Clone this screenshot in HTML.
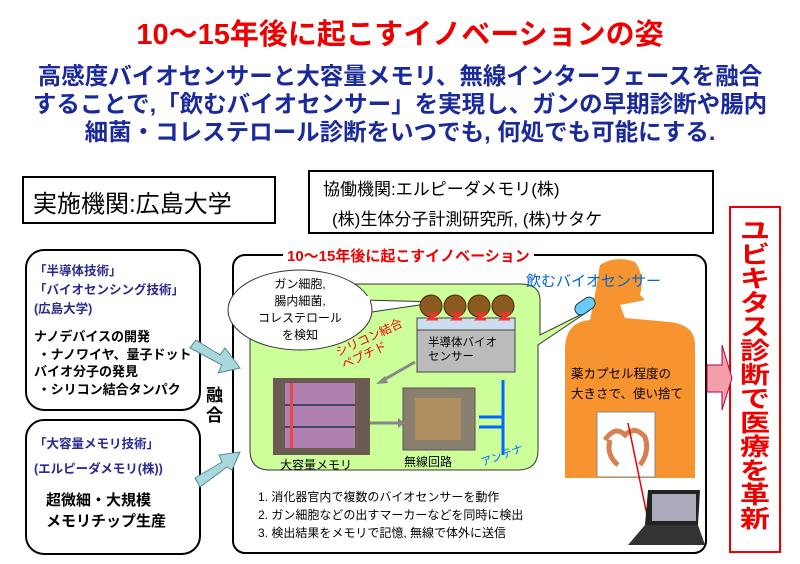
<!DOCTYPE html>
<html><head><meta charset="utf-8"><style>
html,body{margin:0;padding:0;background:#fff;}
body{width:800px;height:564px;position:relative;overflow:hidden;font-family:"Liberation Sans","Noto Sans CJK JP",sans-serif;}
.a{position:absolute;white-space:nowrap;}
</style></head><body>
<svg width="800" height="564" style="position:absolute;left:0;top:0">
<rect x="23" y="177" width="252" height="46" fill="#fff" stroke="#000" stroke-width="2"/>
<rect x="309" y="171" width="404" height="62" fill="#fff" stroke="#000" stroke-width="2"/>
<rect x="26" y="250" width="174" height="160" rx="18" fill="#fff" stroke="#000" stroke-width="2"/>
<rect x="26" y="420" width="174" height="134" rx="18" fill="#fff" stroke="#000" stroke-width="2"/>
<rect x="233" y="255" width="473" height="298" rx="12" fill="#fff" stroke="#000" stroke-width="2"/>
<rect x="730" y="207" width="50" height="345" fill="#fff" stroke="#e00" stroke-width="2"/>
<polygon points="196,340 220,355 225,348 240,368 218,373 222,365 190,348" fill="#a8d8dc" stroke="#5a8a90"/>
<polygon points="195,478 222,462 219,455 240,452 232,470 227,467 200,487" fill="#a8d8dc" stroke="#5a8a90"/>
<polygon points="707,365 722,365 722,345 732,378 722,410 722,392 707,392" fill="#f5a0a8" stroke="#a05"/>
<path d="M260,300 Q260,284 280,284 L520,284 Q540,284 540,300 L540,335 L590,310 L538,345 L538,450 Q538,470 518,470 L270,470 Q250,470 250,450 L250,330 Z" fill="#ccff99" stroke="#333" stroke-width="1"/>
<path d="M360,300 L440,302 L372,312" fill="#fff" stroke="#333"/>
<ellipse cx="300" cy="310" rx="72" ry="40" fill="#fff" stroke="#333"/>
<rect x="362" y="296" width="8" height="14" fill="#fff"/>
<rect x="417" y="318" width="98" height="12" fill="#cde" stroke="#444"/>
<rect x="417" y="330" width="98" height="42" fill="#bbb" stroke="#444"/>
<g fill="#8b5a20" stroke="#4a2a00"><circle cx="431" cy="306" r="11"/><circle cx="455" cy="306" r="11"/><circle cx="479" cy="306" r="11"/><circle cx="503" cy="306" r="11"/></g>
<g stroke="#e33" stroke-width="3" fill="none"><path d="M428,314 h8 l-6,5 h8"/><path d="M452,314 h8 l-6,5 h8"/><path d="M476,314 h8 l-6,5 h8"/><path d="M500,314 h8 l-6,5 h8"/></g>
<rect x="273" y="378" width="97" height="77" fill="#6a5a50"/>
<rect x="285" y="383" width="70" height="65" fill="#b080b0"/>
<line x1="285" y1="405" x2="355" y2="405" stroke="#446" stroke-width="2"/>
<line x1="285" y1="427" x2="355" y2="427" stroke="#446" stroke-width="2"/>
<rect x="290" y="383" width="3" height="65" fill="#e44"/>
<rect x="403" y="388" width="72" height="62" fill="#8a8070" stroke="#555"/>
<rect x="415" y="398" width="46" height="42" fill="#b09060"/>
<line x1="370" y1="423" x2="398" y2="423" stroke="#888" stroke-width="3"/><polygon points="398,418 405,423 398,428" fill="#888"/>
<line x1="415" y1="362" x2="380" y2="382" stroke="#888" stroke-width="3"/><polygon points="376,384 385,376 388,383" fill="#888"/>
<g stroke="#06f" stroke-width="3" fill="none"><path d="M503,380 V430"/><path d="M479,417 H503"/><path d="M479,427 H503 V455"/></g>
<path d="M600,265 Q615,255 635,262 Q645,275 640,295 L645,300 L620,305 L625,318 L670,322 Q695,325 695,345 L695,478 L565,478 L565,350 Q565,322 590,320 L594,300 Z" fill="#f7942f"/>
<rect x="597" y="412" width="58" height="65" fill="#fff" stroke="#888"/>
<path d="M605,440 q10,-15 20,-5 q10,-10 20,2 q5,15 -5,28 M610,440 q-4,15 8,25" stroke="#d88050" stroke-width="5" fill="none"/>
<line x1="628" y1="423" x2="648" y2="520" stroke="#e00" stroke-width="1.5"/>
<g transform="rotate(-35 585 306)"><rect x="574" y="300" width="22" height="12" rx="6" fill="#6cf" stroke="#333"/></g>
<polygon points="648,490 700,490 698,525 645,525" fill="#222"/>
<rect x="652" y="494" width="44" height="27" fill="#aab"/>
<polygon points="645,525 698,525 705,545 628,545" fill="#333"/>
</svg>

<div class="a" style="left:0;width:800px;text-align:center;top:11px;font-size:29px;font-weight:bold;color:#e00">10～15年後に起こすイノベーションの姿</div>
<div class="a" style="left:0;width:800px;text-align:center;top:62px;font-size:23.5px;font-weight:bold;color:#1a2a9a;line-height:28px">高感度バイオセンサーと大容量メモリ、無線インターフェースを融合<br>することで,「飲むバイオセンサー」を実現し、ガンの早期診断や腸内<br>細菌・コレステロール診断をいつでも, 何処でも可能にする.</div>
<div class="a" style="left:33px;top:184px;font-size:24px">実施機関:広島大学</div>
<div class="a" style="left:323px;top:175px;font-size:17px">協働機関:エルピーダメモリ(株)</div>
<div class="a" style="left:332px;top:205px;font-size:17px">(株)生体分子計測研究所, (株)サタケ</div>
<div class="a" style="left:34px;top:262px;font-size:12.5px;font-weight:bold;color:#2a2a90;line-height:19px">「半導体技術」<br>「バイオセンシング技術」<br>(広島大学)</div>
<div class="a" style="left:34px;top:328px;font-size:13px;font-weight:bold;line-height:17.5px">ナノデバイスの開発<br>&nbsp;・ナノワイヤ、量子ドット<br>バイオ分子の発見<br>&nbsp;・シリコン結合タンパク</div>
<div class="a" style="left:34px;top:432px;font-size:12.5px;font-weight:bold;color:#2a2a90;line-height:25px">「大容量メモリ技術」<br>(エルピーダメモリ(株))</div>
<div class="a" style="left:46px;top:490px;font-size:15px;font-weight:bold;line-height:21px">超微細・大規模<br>メモリチップ生産</div>
<div class="a" style="left:206px;top:386px;font-size:17px;font-weight:bold;line-height:20px">融<br>合</div>
<div class="a" style="left:283px;top:245px;font-size:15px;font-weight:bold;color:#e00;background:#fff;padding:0 4px">10～15年後に起こすイノベーション</div>
<div class="a" style="left:238px;top:276px;width:124px;text-align:center;font-size:12px;line-height:17px">ガン細胞,<br>腸内細菌,<br>コレステロール<br>を検知</div>
<div class="a" style="left:336px;top:330px;font-size:12px;color:#e00;transform:rotate(-25deg);line-height:14px">シリコン結合<br>ペプチド</div>
<div class="a" style="left:428px;top:336px;font-size:11.5px;line-height:14px">半導体バイオ<br>センサー</div>
<div class="a" style="left:280px;top:456px;font-size:12px">大容量メモリ</div>
<div class="a" style="left:404px;top:453px;font-size:12px">無線回路</div>
<div class="a" style="left:480px;top:447px;font-size:11px;color:#06f;transform:rotate(-20deg)">アンテナ</div>
<div class="a" style="left:526px;top:270px;font-size:15px;color:#06c">飲むバイオセンサー</div>
<div class="a" style="left:571px;top:364px;font-size:12.5px;line-height:20px">薬カプセル程度の<br>大きさで、使い捨て</div>
<div class="a" style="left:258px;top:488px;font-size:12px;line-height:18px">1. 消化器官内で複数のバイオセンサーを動作<br>2. ガン細胞などの出すマーカーなどを同時に検出<br>3. 検出結果をメモリで記憶, 無線で体外に送信</div>
<div class="a" style="left:735px;top:220px;width:40px;font-size:24px;font-weight:bold;color:#e00;line-height:24px;white-space:normal;text-align:center;transform:scaleX(1.25);transform-origin:center top">ユ<br>ビ<br>キ<br>タ<br>ス<br>診<br>断<br>で<br>医<br>療<br>を<br>革<br>新</div>
</body></html>
